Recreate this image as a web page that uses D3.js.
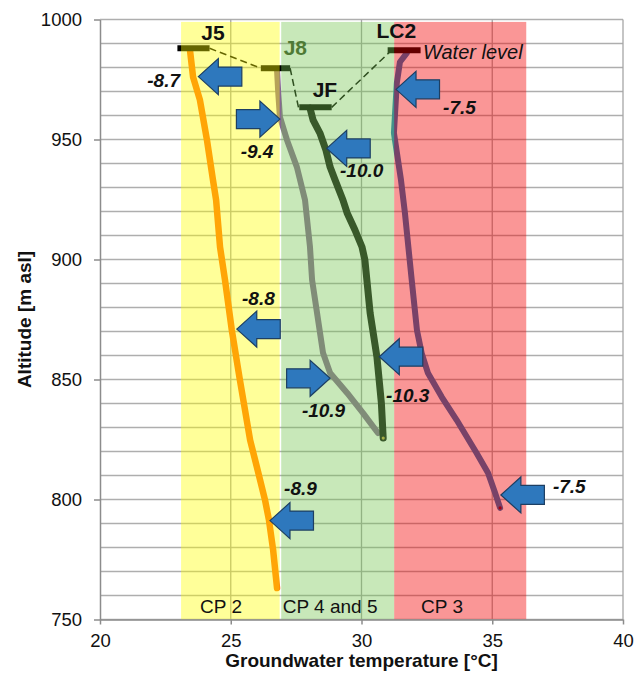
<!DOCTYPE html>
<html>
<head>
<meta charset="utf-8">
<script src="https://cdn.jsdelivr.net/npm/d3@7"></script>
<style>
  html, body { margin: 0; padding: 0; background: #fff; }
  svg { display: block; font-family: "Liberation Sans", Arial, sans-serif; }
</style>
</head>
<body>
<div id="chart"></div>
<script>
// Groundwater temperature profiles (J5, J8, JF, LC2) vs altitude

// ----- Data -----
const xTicks = [20, 25, 30, 35, 40];
const yTicks = [750, 800, 850, 900, 950, 1000];
const yMinor = d3.range(750, 1001, 10);

// Profiles: [temperature °C, altitude m asl]
const j5 = [[23.44, 987.3], [23.56, 976.0], [23.82, 966.5], [24.09, 949.8], [24.32, 933.1],
  [24.44, 924.8], [24.59, 905.2], [24.78, 891.5], [25.04, 870.6], [25.35, 849.8],
  [25.74, 824.8], [26.0, 813.5], [26.31, 799.8], [26.46, 791.5], [26.62, 779.0], [26.77, 763.1]];
const j8 = [[26.77, 979.0], [26.81, 970.6], [26.88, 959.4], [27.15, 949.8], [27.53, 938.5],
  [27.84, 924.8], [28.03, 905.2], [28.11, 891.5], [28.30, 877.7], [28.53, 861.0],
  [28.80, 852.7], [29.45, 844.4], [30.06, 836.0], [30.63, 827.7]];
const jf = [[28.03, 963.1], [28.15, 958.1], [28.41, 952.7], [28.64, 945.6], [28.80, 938.5],
  [28.99, 933.1], [29.29, 924.8], [29.45, 919.4], [29.75, 912.3], [30.02, 905.2],
  [30.13, 899.8], [30.33, 877.7], [30.59, 859.4], [30.76, 840.2], [30.83, 825.6]];
const lc2 = [[31.73, 986.0], [31.47, 982.3], [31.35, 973.5], [31.24, 952.7], [31.51, 933.1],
  [31.66, 919.4], [31.92, 891.5], [32.12, 870.6], [32.30, 861.0], [32.54, 852.7],
  [33.07, 842.7], [33.64, 833.1], [34.40, 819.4], [34.84, 811.0], [35.11, 802.7], [35.30, 796.5]];

// Water levels: well, from T, to T, altitude
const waterLevels = [
  ["J5", 22.96, 24.19, 988.0],
  ["J8", 26.15, 27.27, 979.7],
  ["JF", 27.62, 28.86, 963.4],
  ["LC2", 31.00, 32.26, 987.2]
];
// Dashed links between water levels
const waterLinks = [
  [[24.19, 988.0], [26.15, 979.7]],
  [[27.27, 979.7], [27.59, 963.4]],
  [[28.86, 963.4], [31.15, 987.2]]
];

// Cooling plume bands
const bandNames = ["CP 2", "CP 4 and 5", "CP 3"];
const bandFrom = [23.1, 26.93, 31.25];
const bandTo = [26.87, 31.25, 36.3];
const bandLabelT = [24.63, 28.8, 33.08];

// Arrows: tip temperature, tip altitude, direction
const arrows = [
  [23.76, 976.2, "left"], [26.88, 958.5, "right"], [28.67, 946.3, "left"],
  [31.32, 970.9, "left"], [25.23, 871.0, "left"], [28.80, 850.5, "right"],
  [30.68, 859.5, "left"], [26.50, 791.2, "left"], [35.33, 801.9, "left"]
];
// Values next to arrows: text, temperature, altitude (text start), anchor
const arrowLabels = [
  ["-8.7", 23.06, 971.9, "end"], ["-9.4", 25.38, 942.3, "start"],
  ["-10.0", 29.18, 934.4, "start"], ["-7.5", 33.12, 960.6, "start"],
  ["-8.8", 25.43, 881.0, "start"], ["-10.9", 27.72, 834.5, "start"],
  ["-10.3", 30.94, 840.75, "start"], ["-8.9", 27.04, 801.9, "start"],
  ["-7.5", 37.32, 802.7, "start"]
];
// Well names: text, temperature (centre), altitude (baseline)
const wellLabels = [["J5", 24.32, 991.5], ["J8", 27.47, 985.2], ["JF", 28.6, 967.7], ["LC2", 31.33, 992.3]];

// ----- Layout -----
const W = 634, H = 675;
const x = d3.scaleLinear().domain([20, 40]).range([100, 623]);
const y = d3.scaleLinear().domain([750, 1000]).range([619.5, 19.5]);

const svg = d3.select("#chart").append("svg").attr("width", W).attr("height", H);

// Grid
svg.append("g").selectAll("line").data(yMinor).join("line")
  .attr("x1", x(20)).attr("x2", x(40))
  .attr("y1", d => y(d)).attr("y2", d => y(d))
  .attr("stroke", "#aeaeae").attr("stroke-width", 1.3);
svg.append("g").selectAll("line").data(xTicks.slice(1)).join("line")
  .attr("x1", d => x(d)).attr("x2", d => x(d))
  .attr("y1", y(1000)).attr("y2", y(750))
  .attr("stroke", "#a6a6a6").attr("stroke-width", 1.3);

// Profiles (drawn in raw colours; the bands tint them)
const line = d3.line().x(d => x(d[0])).y(d => y(d[1]));
const profiles = [
  [j5, "#ff6a0a", 6.5], [j8, "#876693", 6], [jf, "#111111", 7], [lc2, "#2270b2", 6]
];
svg.append("g").selectAll("path").data(profiles).join("path")
  .attr("d", d => line(d[0]))
  .attr("fill", "none")
  .attr("stroke", d => d[1])
  .attr("stroke-width", d => d[2])
  .attr("stroke-linecap", "round")
  .attr("stroke-linejoin", "round");

// End dots
svg.append("circle").attr("cx", x(jf[jf.length - 1][0])).attr("cy", y(jf[jf.length - 1][1]))
  .attr("r", 1.6).attr("fill", "#c8a040");
svg.append("circle").attr("cx", x(lc2[lc2.length - 1][0])).attr("cy", y(lc2[lc2.length - 1][1]))
  .attr("r", 1.6).attr("fill", "#6a0020");

// Water level bars and dashed links
svg.append("g").selectAll("line").data(waterLevels).join("line")
  .attr("x1", d => x(d[1])).attr("x2", d => x(d[2]))
  .attr("y1", d => y(d[3])).attr("y2", d => y(d[3]))
  .attr("stroke", "#000").attr("stroke-width", 6);
svg.append("g").selectAll("line").data(waterLinks).join("line")
  .attr("x1", d => x(d[0][0])).attr("y1", d => y(d[0][1]))
  .attr("x2", d => x(d[1][0])).attr("y2", d => y(d[1][1]))
  .attr("stroke", "#000").attr("stroke-width", 1.5)
  .attr("stroke-dasharray", "7 4");

// Bands (semi-transparent, over grid and profiles)
const bandColors = ["#ffff00", "#75c550", "#f40000"];
const bandOpacity = [0.4, 0.4, 0.41];
svg.append("g").selectAll("rect").data(bandNames).join("rect")
  .attr("x", (d, i) => x(bandFrom[i]))
  .attr("width", (d, i) => x(bandTo[i]) - x(bandFrom[i]))
  .attr("y", y(999))
  .attr("height", y(750) - y(999))
  .attr("fill", (d, i) => bandColors[i])
  .attr("fill-opacity", (d, i) => bandOpacity[i]);

svg.append("g").selectAll("text").data(bandNames).join("text")
  .attr("x", (d, i) => x(bandLabelT[i]))
  .attr("y", y(752.7))
  .attr("text-anchor", "middle")
  .attr("font-size", 19)
  .attr("fill", "#111")
  .text(d => d);

// Axes
const xAxis = svg.append("g")
  .attr("transform", `translate(0,${y(750)})`)
  .call(d3.axisBottom(x).tickValues(xTicks).tickSize(5).tickPadding(7).tickSizeOuter(0));
const yAxis = svg.append("g")
  .attr("transform", `translate(${x(20)},0)`)
  .call(d3.axisLeft(y).tickValues(yTicks).tickFormat(d3.format("d"))
    .tickSize(6).tickPadding(12).tickSizeOuter(0));
[xAxis, yAxis].forEach(g => {
  g.select(".domain").attr("stroke", "#8c8c8c").attr("stroke-width", 1.5);
  g.selectAll(".tick line").attr("stroke", "#8c8c8c").attr("stroke-width", 1.5);
  g.selectAll(".tick text").attr("font-size", 18.5).attr("fill", "#111")
    .attr("font-family", "Liberation Sans, Arial, sans-serif");
});
xAxis.selectAll(".tick text").attr("dy", "0.85em");

svg.append("text")
  .attr("x", (x(20) + x(40)) / 2).attr("y", 667)
  .attr("text-anchor", "middle").attr("font-size", 19).attr("font-weight", "bold")
  .attr("fill", "#111")
  .text("Groundwater temperature [°C]");
svg.append("text")
  .attr("transform", `translate(31,${(y(750) + y(1000)) / 2}) rotate(-90)`)
  .attr("text-anchor", "middle").attr("font-size", 19).attr("font-weight", "bold")
  .attr("fill", "#111")
  .text("Altitude [m asl]");

// Arrows
const arrowShape = "M0,0 L20,-18 L20,-9.5 L43.5,-9.5 L43.5,9.5 L20,9.5 L20,18 Z";
svg.append("g").selectAll("path").data(arrows).join("path")
  .attr("d", arrowShape)
  .attr("transform", d => `translate(${x(d[0])},${y(d[1])}) scale(${d[2] === "left" ? 1 : -1},1)`)
  .attr("fill", "#2e78bd")
  .attr("stroke", "#1d3f63")
  .attr("stroke-width", 1.2)
  .attr("stroke-linejoin", "miter");

svg.append("g").selectAll("text").data(arrowLabels).join("text")
  .attr("x", d => x(d[1])).attr("y", d => y(d[2]))
  .attr("text-anchor", d => d[3])
  .attr("font-size", 19).attr("font-weight", "bold").attr("font-style", "italic")
  .attr("fill", "#111")
  .text(d => d[0]);

// Well names
svg.append("g").selectAll("text").data(wellLabels).join("text")
  .attr("x", d => x(d[1])).attr("y", d => y(d[2]))
  .attr("text-anchor", "middle")
  .attr("font-size", 21).attr("font-weight", "bold")
  .attr("fill", d => d[0] === "J8" ? "#4f7a35" : "#111")
  .text(d => d[0]);

svg.append("text")
  .attr("x", x(32.35)).attr("y", y(983.5))
  .attr("font-size", 20).attr("font-style", "italic")
  .attr("fill", "#111")
  .text("Water level");
</script>
</body>
</html>
